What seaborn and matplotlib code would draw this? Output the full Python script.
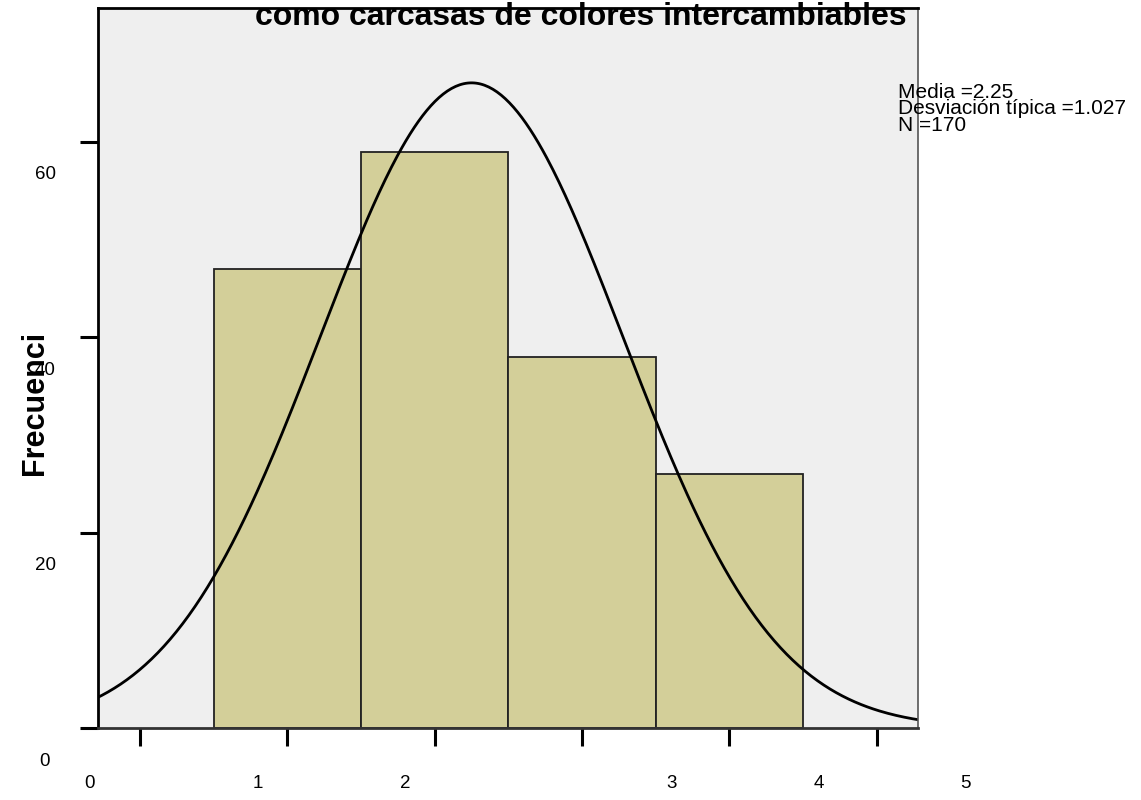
import numpy as np
import pandas as pd
import matplotlib
matplotlib.use("Agg")
import matplotlib.pyplot as plt
import seaborn as sns

# ---- data ----
categories = [1, 2, 3, 4]
counts = [47, 59, 38, 26]
mean_val = 2.25
std_val = 1.027
n_total = 170
x_tick_values = [0, 1, 2, 3, 4, 5]
x_tick_labels = ["0", "1", "2", "3", "4", "5"]
y_tick_values = [0, 20, 40, 60]
y_tick_labels = ["0", "20", "40", "60"]
title_text = "como carcasas de colores intercambiables"
ylabel_text = "Frecuenci"

# ---- style ----
sns.set_style("white")
plt.rcParams['font.family'] = ['Liberation Sans', 'DejaVu Sans']
plt.rcParams['text.color'] = 'black'

fig = plt.figure(figsize=(11.41, 8.0), dpi=100)
ax = fig.add_axes([98/1141, 72/800, 820/1141, 720/800])
ax.set_facecolor("#EFEFEF")

df = pd.DataFrame({"valor": categories, "n": counts})
sns.histplot(data=df, x="valor", weights="n", discrete=True, ax=ax,
             color="#D3CF99", alpha=1.0, edgecolor="#222222", linewidth=1.3)

xs = np.linspace(-0.3, 5.3, 400)
ys = n_total * 1.0 / (std_val * np.sqrt(2 * np.pi)) * np.exp(-0.5 * ((xs - mean_val) / std_val) ** 2)
sns.lineplot(x=xs, y=ys, ax=ax, color="black", linewidth=2.0)

ax.set_xlim(-0.285, 5.28)
ax.set_ylim(0, 73.7)

# spines
for s in ["left", "top"]:
    ax.spines[s].set_color("black")
    ax.spines[s].set_linewidth(2.0)
ax.spines["right"].set_color("#555555")
ax.spines["right"].set_linewidth(1.2)
ax.spines["bottom"].set_color("#333333")
ax.spines["bottom"].set_linewidth(2.0)

# ticks (marks only, labels drawn displaced as in reference)
ax.set_xticks(x_tick_values)
ax.set_yticks(y_tick_values)
ax.set_xticklabels([])
ax.set_yticklabels([])
ax.tick_params(axis="both", direction="out", length=13, width=2.2, color="black",
               bottom=True, left=True)
ax.set_xlabel("")
ax.set_ylabel("")

# displaced tick labels
x_label_pos = [-0.34, 0.80, 1.80, 3.61, 4.61, 5.60]
for xp, lab in zip(x_label_pos, x_tick_labels):
    ax.text(xp, -0.077, lab, transform=ax.get_xaxis_transform(),
            ha="center", va="center", fontsize=13.5, color="black", clip_on=False)
for yv, lab in zip(y_tick_values, y_tick_labels):
    ax.annotate(lab, xy=(0, yv), xycoords=("axes fraction", "data"),
                xytext=(-53, -33), textcoords="offset pixels",
                ha="center", va="center", fontsize=13.5, color="black",
                annotation_clip=False)

# y label
fig.text(35/1141, 1 - 403/800, ylabel_text, rotation=90, ha="center", va="center",
         fontsize=22, fontweight="bold", color="black")

# title (partially clipped at top)
fig.text(581/1141, 1 - 25/800, title_text, ha="center", va="baseline",
         fontsize=23, fontweight="bold", color="black")

# stats box
fig.text(898/1141, 1 - 83/800, f"Media ={mean_val:.2f}\nDesviación típica ={std_val:.3f}\nN ={n_total}",
         ha="left", va="top", fontsize=15, linespacing=0.82, color="black")

fig.savefig("out.png", dpi=100)
